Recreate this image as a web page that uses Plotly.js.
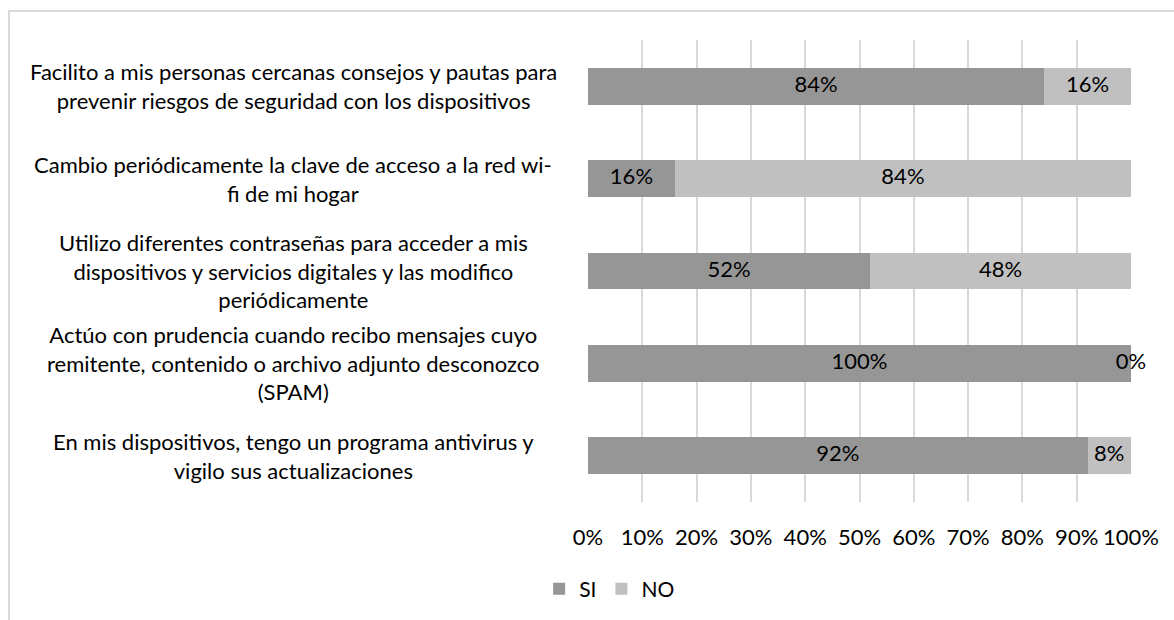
<!DOCTYPE html>
<html>
<head>
<meta charset="utf-8">
<script src="https://cdn.plot.ly/plotly-3.0.1.min.js"></script>
<style>
  html, body { margin: 0; padding: 0; background: #fff; }
  #wrap { position: relative; width: 1174px; height: 620px; }
  #chart { position: absolute; left: 0; top: 0; width: 1174px; height: 620px; }
  #frame { position: absolute; left: 8px; top: 10px; width: 1200px; height: 700px;
           border-left: 2px solid #d9d9d9; border-top: 2px solid #d9d9d9; pointer-events: none; }
</style>
</head>
<body>
<div id="wrap">
  <div id="chart"></div>
  <div id="frame"></div>
</div>
<script>
const categories = [
  "Facilito a mis personas cercanas consejos y pautas para<br>prevenir riesgos de seguridad con los dispositivos",
  "Cambio periódicamente la clave de acceso a la red wi-<br>fi de mi hogar",
  "Utilizo diferentes contraseñas para acceder a mis<br>dispositivos y servicios digitales y las modifico<br>periódicamente",
  "Actúo con prudencia cuando recibo mensajes cuyo<br>remitente, contenido o archivo adjunto desconozco<br>(SPAM)",
  "En mis dispositivos, tengo un programa antivirus y<br>vigilo sus actualizaciones"
];
const seriesNames = ["SI", "NO"];
const siValues = [0.84, 0.16, 0.52, 1.00, 0.92];
const noValues = [0.16, 0.84, 0.48, 0.00, 0.08];
const xTickValues = [0, 0.1, 0.2, 0.3, 0.4, 0.5, 0.6, 0.7, 0.8, 0.9, 1.0];

const FONT = "Lato, 'Open Sans', sans-serif";
const FS = 22;
const colors = ["#969696", "#c0c0c0"];

const traces = [
  {
    type: "bar", orientation: "h", name: seriesNames[0],
    y: categories, x: siValues,
    marker: { color: colors[0] },
    textposition: "none", hoverinfo: "skip"
  },
  {
    type: "bar", orientation: "h", name: seriesNames[1],
    y: categories, x: noValues,
    marker: { color: colors[1] },
    textposition: "none", hoverinfo: "skip"
  }
];

// data labels at the middle of each segment
const lblX = [], lblY = [], lblT = [];
categories.forEach((c, i) => {
  lblX.push(siValues[i] / 2); lblY.push(c); lblT.push(Math.round(siValues[i] * 100) + "%");
  lblX.push(siValues[i] + noValues[i] / 2); lblY.push(c); lblT.push(Math.round(noValues[i] * 100) + "%");
});
traces.push({
  type: "scatter", mode: "text", x: lblX, y: lblY, text: lblT,
  textposition: "middle center", cliponaxis: false,
  textfont: { family: FONT, size: FS, color: "#000" },
  showlegend: false, hoverinfo: "skip"
});

const annotations = categories.map(c => ({
  xref: "paper", yref: "y", x: -0.543, y: c, text: c,
  xanchor: "center", yanchor: "middle", align: "center", showarrow: false,
  font: { family: FONT, size: FS, color: "#000" }
}));

const layout = {
  width: 1174, height: 620,
  margin: { l: 588, r: 43, t: 40, b: 117 },
  paper_bgcolor: "#fff", plot_bgcolor: "#fff",
  barmode: "stack", bargap: 0.6,
  font: { family: FONT, size: FS, color: "#000" },
  showlegend: true,
  legend: {
    orientation: "h", traceorder: "normal",
    x: -0.09, xanchor: "left", y: -0.186, yanchor: "middle",
    font: { family: FONT, size: 21, color: "#000" },
    itemwidth: 30, tracegroupgap: 0
  },
  xaxis: {
    range: [0, 1], tickvals: xTickValues, tickformat: ".0%",
    showgrid: true, gridcolor: "#d9d9d9", gridwidth: 2,
    zeroline: false, showline: false, ticks: "", ticklabelstandoff: 20,
    tickfont: { family: FONT, size: FS, color: "#000" }, fixedrange: true
  },
  yaxis: {
    type: "category", autorange: "reversed", showticklabels: false,
    showgrid: false, zeroline: false, showline: false, ticks: "", fixedrange: true
  },
  annotations: annotations
};

Plotly.newPlot("chart", traces, layout, { displayModeBar: false, staticPlot: true });
</script>
</body>
</html>
